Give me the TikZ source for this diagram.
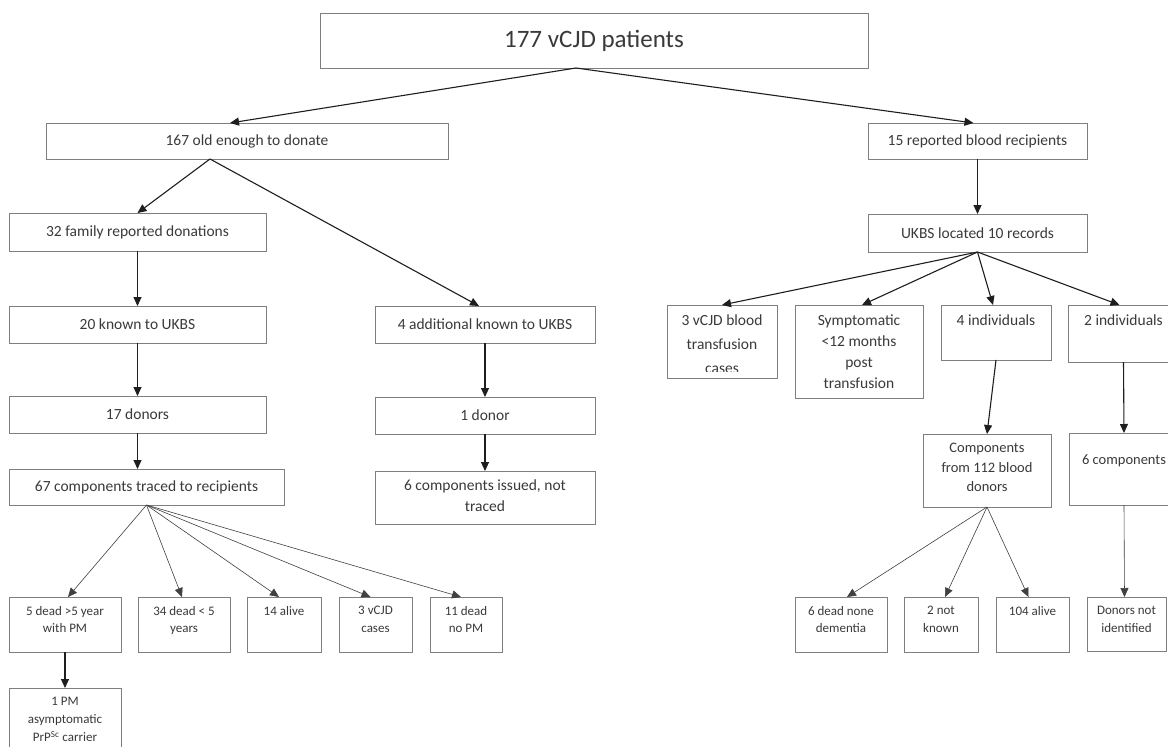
\documentclass[tikz,border=0pt]{standalone}
\usepackage{fontspec}
\setmainfont{Carlito}
\usetikzlibrary{arrows.meta}
\definecolor{boxc}{HTML}{7F7F7F}
\definecolor{txtc}{HTML}{3A3A3A}
\definecolor{linec}{HTML}{1E1E1E}
\begin{document}
\begin{tikzpicture}[x=1pt,y=-1pt,
  box/.style={draw=boxc, line width=0.8pt, anchor=north west, inner sep=0pt, outer sep=0pt,
    text=txtc, align=center, font=\fontsize{15.5}{21}\selectfont},
  tl/.style={anchor=north, inner sep=0pt, align=center, text=txtc},
  fmid/.style={font=\fontsize{15.5}{21}\selectfont},
  fsmall/.style={font=\fontsize{13}{17.5}\selectfont},
  arr/.style={-{Triangle[length=9pt,width=8pt]}, line width=1.1pt, draw=linec},
  thin/.style={-{Triangle[length=9pt,width=8pt]}, line width=0.6pt, draw=linec!85}
]
\useasboundingbox (0,0) rectangle (1168,747);
\clip (0,0) rectangle (1168,747);
\fill[white] (0,0) rectangle (1168,747);

% top level
\node[box, minimum width=548pt, minimum height=55pt, font=\fontsize{25}{30}\selectfont] (top) at (320,13) {177 vCJD patients};
\node[box, minimum width=402pt, minimum height=36pt] (old) at (46,123) {167 old enough to donate};
\node[box, minimum width=219pt, minimum height=36pt] (rep) at (868,123) {15 reported blood recipients};

% left branch
\node[box, minimum width=257pt, minimum height=38pt] (fam) at (9,213) {32 family reported donations};
\node[box, minimum width=257pt, minimum height=37pt] (known) at (9,306) {20 known to UKBS};
\node[box, minimum width=257pt, minimum height=37pt] (don17) at (9,396) {17 donors};
\node[box, minimum width=275pt, minimum height=36pt] (comp67) at (9,469) {67 components traced to recipients};
\node[box, minimum width=220pt, minimum height=37pt] (add) at (375,306) {4 additional known to UKBS};
\node[box, minimum width=220pt, minimum height=37pt] (don1) at (375,397) {1 donor};
\node[box, minimum width=220pt, minimum height=53pt,
  label={[tl, fmid, yshift=-9pt]north:{6 components issued, not\\traced}}] (issued) at (375,471) {};

% left bottom
\node[box, minimum width=112pt, minimum height=55pt,
  label={[tl, fsmall, yshift=-9pt]north:{5 dead >5 year\\with PM}}] (d5) at (9,597) {};
\node[box, minimum width=92pt, minimum height=55pt,
  label={[tl, fsmall, yshift=-9pt]north:{34 dead < 5\\years}}] (d34) at (138,597) {};
\node[box, minimum width=74pt, minimum height=55pt,
  label={[tl, fsmall, yshift=-9pt]north:{14 alive}}] (a14) at (247,597) {};
\node[box, minimum width=73pt, minimum height=55pt,
  label={[tl, fsmall, yshift=-9pt]north:{3 vCJD\\cases}}] (v3) at (339,597) {};
\node[box, minimum width=72pt, minimum height=55pt,
  label={[tl, fsmall, yshift=-9pt]north:{11 dead\\no PM}}] (d11) at (430,597) {};
\node[box, minimum width=112pt, minimum height=75pt,
  label={[tl, fsmall, yshift=-9pt, font=\fontsize{13}{18}\selectfont]north:{1 PM\\asymptomatic\\PrP\textsuperscript{Sc} carrier}}] (pm) at (9,688) {};

% right branch
\node[box, minimum width=219pt, minimum height=38pt] (ukbs) at (868,214) {UKBS located 10 records};
\node[box, minimum width=110pt, minimum height=73pt] (cases3) at (667,305) {};
\begin{scope}
  \clip (cases3.north west) rectangle ([yshift=7pt]cases3.south east);
  \node[tl, font=\fontsize{15.5}{24}\selectfont, yshift=-10pt] (cases3t) at (cases3.north) {3 vCJD blood\\transfusion\\cases};
\end{scope}
\node[box, minimum width=128pt, minimum height=93pt,
  label={[tl, fmid, yshift=-10pt]north:{Symptomatic\\<12 months\\post\\transfusion}}] (symp) at (795,305) {};
\node[box, minimum width=110pt, minimum height=55pt,
  label={[tl, fmid, yshift=-10pt]north:{4 individuals}}] (ind4) at (941,305) {};
\node[box, minimum width=111pt, minimum height=57pt,
  label={[tl, fmid, yshift=-10pt]north:{2 individuals}}] (ind2) at (1068,305) {};
\node[box, minimum width=128pt, minimum height=73pt,
  label={[tl, yshift=-9pt, font=\fontsize{14.5}{19.5}\selectfont]north:{Components\\from 112 blood\\donors}}] (c112) at (923,434) {};
\node[box, minimum width=110pt, minimum height=72pt,
  label={[tl, yshift=-22pt, font=\fontsize{14.5}{19.5}\selectfont]north:{6 components}}] (c6) at (1069,433) {};
\node[box, minimum width=92pt, minimum height=55pt,
  label={[tl, fsmall, yshift=-9pt]north:{6 dead none\\dementia}}] (dn) at (795,597) {};
\node[box, minimum width=74pt, minimum height=55pt,
  label={[tl, fsmall, yshift=-9pt]north:{2 not\\known}}] (nk) at (904,597) {};
\node[box, minimum width=73pt, minimum height=55pt,
  label={[tl, fsmall, yshift=-9pt]north:{104 alive}}] (a104) at (996,597) {};
\node[box, minimum width=79pt, minimum height=54pt,
  label={[tl, fsmall, yshift=-9pt]north:{Donors not\\identified}}] (dni) at (1087,597) {};

% connectors
\draw[arr] ([xshift=-18pt]top.south) -- ([xshift=-17pt]old.north);
\draw[arr] ([xshift=-18pt]top.south) -- ([xshift=-4pt]rep.north);
\draw[arr] ([xshift=-37pt]old.south) -- (fam.north);
\draw[arr] ([xshift=-37pt]old.south) -- ([xshift=-6pt]add.north);
\draw[arr] (fam.south) -- (known.north);
\draw[arr] (known.south) -- (don17.north);
\draw[arr] (don17.south) -- ([xshift=-9pt]comp67.north);
\draw[arr] (add.south) -- (don1.north);
\draw[arr] (don1.south) -- (issued.north);
\draw[thin] (comp67.south) -- ([xshift=3pt]d5.north);
\draw[thin] (comp67.south) -- ([xshift=-2pt]d34.north);
\draw[thin] (comp67.south) -- ([xshift=-5pt]a14.north);
\draw[thin] (comp67.south) -- ([xshift=-5pt]v3.north);
\draw[thin] (comp67.south) -- ([xshift=-5pt]d11.north);
\draw[arr] (d5.south) -- (pm.north);

\draw[arr] (rep.south) -- (ukbs.north);
\draw[arr] (ukbs.south) -- (cases3.north);
\draw[arr] (ukbs.south) -- ([xshift=3pt]symp.north);
\draw[arr] (ukbs.south) -- ([xshift=-3pt]ind4.north);
\draw[arr] (ukbs.south) -- ([xshift=-4pt]ind2.north);
\draw[arr] (ind4.south) -- (c112.north);
\draw[arr] (ind2.south) -- (c6.north);
\draw[thin] (c112.south) -- ([xshift=6pt]dn.north);
\draw[thin] (c112.south) -- ([xshift=4pt]nk.north);
\draw[thin] (c112.south) -- ([xshift=-4pt]a104.north);
\draw[thin] (c6.south) -- ([xshift=-2pt]dni.north);
\end{tikzpicture}
\end{document}
